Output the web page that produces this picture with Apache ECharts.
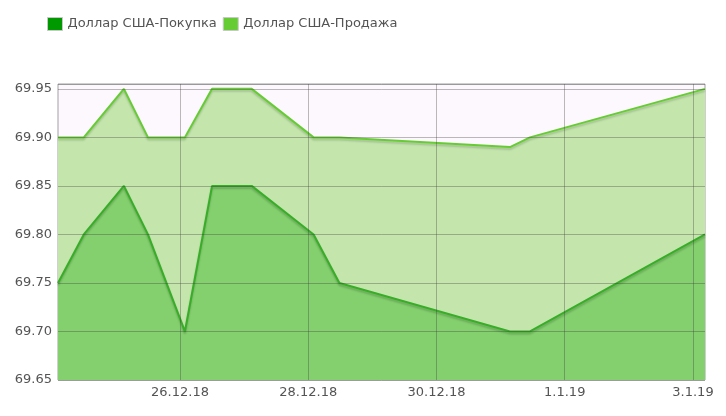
<!DOCTYPE html>
<html>
<head>
<meta charset="utf-8">
<script src="https://cdn.jsdelivr.net/npm/echarts@6/dist/echarts.min.js"></script>
<style>
  html, body { margin: 0; padding: 0; background: #fff; }
  #chart { width: 726px; height: 416px; }
</style>
</head>
<body>
<div id="chart"></div>
<script>
    // точки курса (время снятия котировки)
    const times = [
        '2018-12-24 02:20', '2018-12-24 12:00', '2018-12-25 03:00', '2018-12-25 12:00',
        '2018-12-26 01:50', '2018-12-26 12:00', '2018-12-27 02:50', '2018-12-28 02:00',
        '2018-12-28 11:40', '2018-12-31 03:30', '2018-12-31 11:00', '2019-01-03 04:30'
    ]
    const buy = [69.75, 69.80, 69.85, 69.80, 69.70, 69.85, 69.85, 69.80, 69.75, 69.70, 69.70, 69.80]
    const sell = [69.90, 69.90, 69.95, 69.90, 69.90, 69.95, 69.95, 69.90, 69.90, 69.89, 69.90, 69.95]
    const seriesNames = ['Доллар США-Покупка', 'Доллар США-Продажа']
    // подписи оси X (деления через 2 дня)
    const tickDates = ['2018-12-26 00:00', '2018-12-28 00:00', '2018-12-30 00:00', '2019-01-01 00:00', '2019-01-03 00:00']
    const tickLabels = ['26.12.18', '28.12.18', '30.12.18', '1.1.19', '3.1.19']

    const DAY = 86400000
    const toDays = (s) => {
        let [d, t] = s.split(' ')
        let [y, m, dd] = d.split('-').map(Number)
        let [h, mi] = t.split(':').map(Number)
        return Date.UTC(y, m - 1, dd, h, mi) / DAY
    }
    const xs = times.map(toDays)
    const ticks = tickDates.map(toDays)

    const gridColor = 'rgba(60,60,60,0.35)'

    let options = {
        animation: false,
        textStyle: { fontFamily: 'DejaVu Sans' },
        legend: {
            left: 42,
            top: 12,
            icon: 'rect',
            itemWidth: 15,
            itemHeight: 13,
            itemGap: 6,
            data: seriesNames,
            itemStyle: { borderColor: '#c8c8c8', borderWidth: 1 },
            textStyle: { fontSize: 13, color: '#545454', fontFamily: 'DejaVu Sans' }
        },
        grid: {
            left: 58,
            right: 21,
            top: 84,
            bottom: 36,
            show: true,
            backgroundColor: '#fdf8fd',
            borderColor: '#a0a0a0',
            borderWidth: 1
        },
        xAxis: {
            type: 'value',
            min: xs[0],
            max: xs[xs.length - 1],
            axisLine: { show: false },
            axisTick: { show: false },
            splitLine: { show: false },
            axisLabel: { show: false }
        },
        yAxis: {
            type: 'value',
            z: 5,
            min: 69.65,
            max: 69.955,
            interval: 0.05,
            axisLine: { show: false },
            axisTick: { show: false },
            splitLine: { show: true, lineStyle: { color: gridColor, width: 1 } },
            axisLabel: {
                formatter: (v) => Math.abs(v * 20 - Math.round(v * 20)) < 1e-6 ? v.toFixed(2) : '',
                fontSize: 13,
                color: '#545454',
                margin: 6
            }
        },
        series: [
            {
                name: seriesNames[1],
                type: 'line',
                z: 2,
                data: xs.map((x, i) => [x, sell[i]]),
                symbol: 'none',
                itemStyle: { color: '#66cc33' },
                lineStyle: {
                    color: '#66cc33', width: 2,
                    shadowColor: 'rgba(0,0,0,0.18)', shadowBlur: 2, shadowOffsetY: 2
                },
                areaStyle: { color: '#c4e6ad', opacity: 1, origin: 'start' }
            },
            {
                name: seriesNames[0],
                type: 'line',
                z: 3,
                data: xs.map((x, i) => [x, buy[i]]),
                symbol: 'none',
                itemStyle: { color: '#009900' },
                lineStyle: {
                    color: '#38ad28', width: 2,
                    shadowColor: 'rgba(0,0,0,0.2)', shadowBlur: 2, shadowOffsetY: 2
                },
                areaStyle: { color: '#84d06e', opacity: 1, origin: 'start' },
                // вертикальная сетка с датами
                markLine: {
                    silent: true,
                    symbol: 'none',
                    animation: false,
                    lineStyle: { color: gridColor, width: 1, type: 'solid' },
                    label: {
                        position: 'start',
                        distance: 6,
                        fontSize: 13,
                        color: '#545454',
                        fontFamily: 'DejaVu Sans',
                        formatter: (p) => tickLabels[p.dataIndex]
                    },
                    data: ticks.map((t) => ({ xAxis: t }))
                }
            }
        ]
    }

    let myChart = echarts.init(document.getElementById('chart'))
    myChart.setOption(options)
</script>
</body>
</html>
